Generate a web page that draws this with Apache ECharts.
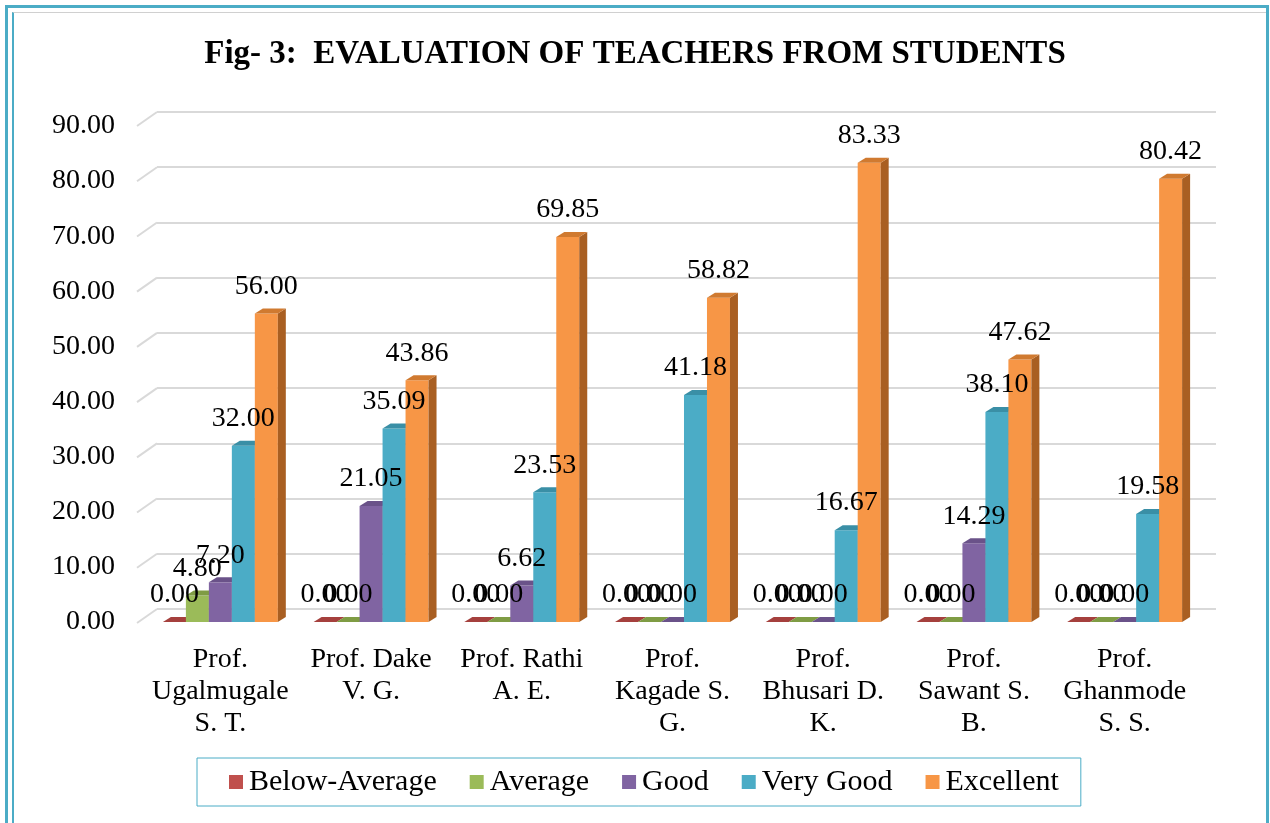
<!DOCTYPE html>
<html>
<head>
<meta charset="utf-8">
<script src="https://cdn.jsdelivr.net/npm/echarts@6/dist/echarts.min.js"></script>
<style>
  html, body { margin: 0; padding: 0; background: #fff; }
  #frame { position: absolute; left: 5px; top: 5px; width: 1258px; height: 818px;
           border-top: 3px solid #4bacc6; border-left: 3px solid #4bacc6; border-right: 3px solid #4bacc6; }
  #inner { position: absolute; left: 4px; top: 4px; right: 0; bottom: 0;
           border-left: 2px solid #4bacc6; border-top: 1px solid #d0d0d0; }
  #chart { position: absolute; left: 0; top: 0; width: 1270px; height: 823px; }
</style>
</head>
<body>
<div id="frame"><div id="inner"></div></div>
<div id="chart"></div>
<script>
// 類別（教師）
const teachers = [
  'Prof.\nUgalmugale\nS. T.',
  'Prof. Dake\nV. G.',
  'Prof. Rathi\nA. E.',
  'Prof.\nKagade S.\nG.',
  'Prof.\nBhusari D.\nK.',
  'Prof.\nSawant S.\nB.',
  'Prof.\nGhanmode\nS. S.'
];
const seriesNames = ['Below-Average', 'Average', 'Good', 'Very Good', 'Excellent'];
// 各評價百分比
const belowAverage = [0, 0, 0, 0, 0, 0, 0];
const average = [4.80, 0, 0, 0, 0, 0, 0];
const good = [7.20, 21.05, 6.62, 0, 0, 14.29, 0];
const veryGood = [32.00, 35.09, 23.53, 41.18, 16.67, 38.10, 19.58];
const excellent = [56.00, 43.86, 69.85, 58.82, 83.33, 47.62, 80.42];
const yTicks = [0, 10, 20, 30, 40, 50, 60, 70, 80, 90];

const values = [belowAverage, average, good, veryGood, excellent];
// 正面、頂面、側面顏色
const colors = [
  ['#C0504D', '#A5403D', '#8A3532'],
  ['#9BBB59', '#7F9C44', '#6A8437'],
  ['#8064A2', '#6A5289', '#584471'],
  ['#4BACC6', '#3A8FA6', '#2F7A8E'],
  ['#F79646', '#D07A30', '#A95F22']
];

const FONT = "'Liberation Serif', 'Times New Roman', serif";
const DX = 8, DY = 5;

function barGeom(api, i) {
  const base = api.coord([api.value(0), 0]);
  const top = api.coord([api.value(0), api.value(1)]);
  const w = api.size([1, 0])[0] * 0.1525;
  const x0 = base[0] + (i - 2.5) * w;
  return { x0: x0, w: w, yb: base[1], yt: top[1] };
}

const chart = echarts.init(document.getElementById('chart'));

const barSeries = values.map(function (vals, i) {
  return {
    name: seriesNames[i],
    type: 'custom',
    xAxisIndex: 0,
    yAxisIndex: 0,
    itemStyle: { color: colors[i][0] },
    z: 2,
    data: vals.map(function (v, k) { return [k, v]; }),
    renderItem: function (params, api) {
      const g = barGeom(api, i);
      return {
        type: 'group',
        children: [
          { type: 'rect', shape: { x: g.x0, y: g.yt, width: g.w, height: g.yb - g.yt },
            style: { fill: colors[i][0] } },
          { type: 'polygon', shape: { points: [[g.x0 + g.w, g.yt], [g.x0 + g.w + DX, g.yt - DY],
              [g.x0 + g.w + DX, g.yb - DY], [g.x0 + g.w, g.yb]] },
            style: { fill: colors[i][2] } },
          { type: 'polygon', shape: { points: [[g.x0, g.yt], [g.x0 + DX, g.yt - DY],
              [g.x0 + g.w + DX, g.yt - DY], [g.x0 + g.w, g.yt]] },
            style: { fill: colors[i][1] } }
        ]
      };
    }
  };
});

// 數值標籤（置於最上層）
const labelSeries = values.map(function (vals, i) {
  return {
    name: seriesNames[i] + '-label',
    type: 'custom',
    xAxisIndex: 0,
    yAxisIndex: 0,
    silent: true,
    z: 10,
    data: vals.map(function (v, k) { return [k, v]; }),
    renderItem: function (params, api) {
      const g = barGeom(api, i);
      return {
        type: 'text',
        x: g.x0 + g.w / 2,
        y: g.yt - 27,
        style: { text: api.value(1).toFixed(2), fill: '#000', font: '28px ' + FONT,
                 align: 'center', verticalAlign: 'middle' }
      };
    }
  };
});

// 背牆左側斜線
const wallSeries = {
  type: 'custom',
  xAxisIndex: 1,
  yAxisIndex: 1,
  silent: true,
  z: 0,
  data: yTicks.map(function (t) { return [0, t]; }),
  renderItem: function (params, api) {
    const y = api.coord([0, api.value(1)])[1];
    const x = params.coordSys.x;
    return { type: 'line', shape: { x1: x - 20, y1: y + 14, x2: x, y2: y },
             style: { stroke: '#d9d9d9', lineWidth: 2 } };
  }
};

chart.setOption({
  animation: false,
  title: {
    text: 'Fig- 3:  EVALUATION OF TEACHERS FROM STUDENTS',
    left: 'center',
    top: 33,
    textStyle: { fontFamily: FONT, fontWeight: 'bold', fontSize: 33, color: '#000' }
  },
  legend: {
    data: seriesNames,
    left: 197,
    top: 758,
    icon: 'rect',
    itemWidth: 14,
    itemHeight: 14,
    itemGap: 33,
    padding: [9, 22, 9, 32],
    borderColor: '#4bacc6',
    borderWidth: 1,
    textStyle: { fontFamily: FONT, fontSize: 30, color: '#000', padding: [0, 0, 0, 1] }
  },
  grid: [
    { left: 145, right: 70, top: 126, bottom: 201 },
    { left: 157, right: 54, top: 112, bottom: 214 }
  ],
  xAxis: [
    { type: 'category', gridIndex: 0, data: teachers,
      axisLine: { show: false }, axisTick: { show: false },
      axisLabel: { fontFamily: FONT, fontSize: 28, color: '#000', lineHeight: 32, margin: 22, interval: 0 } },
    { type: 'category', gridIndex: 1, data: teachers, show: false }
  ],
  yAxis: [
    { type: 'value', gridIndex: 0, min: 0, max: 90, interval: 10,
      splitLine: { show: false }, axisLine: { show: false }, axisTick: { show: false },
      axisLabel: { fontFamily: FONT, fontSize: 28, color: '#000', margin: 30,
                   formatter: function (v) { return v.toFixed(2); } } },
    { type: 'value', gridIndex: 1, min: 0, max: 90, interval: 10,
      axisLine: { show: false }, axisTick: { show: false }, axisLabel: { show: false },
      splitLine: { lineStyle: { color: '#d9d9d9', width: 2 } } }
  ],
  series: [wallSeries].concat(barSeries, labelSeries)
});
</script>
</body>
</html>
